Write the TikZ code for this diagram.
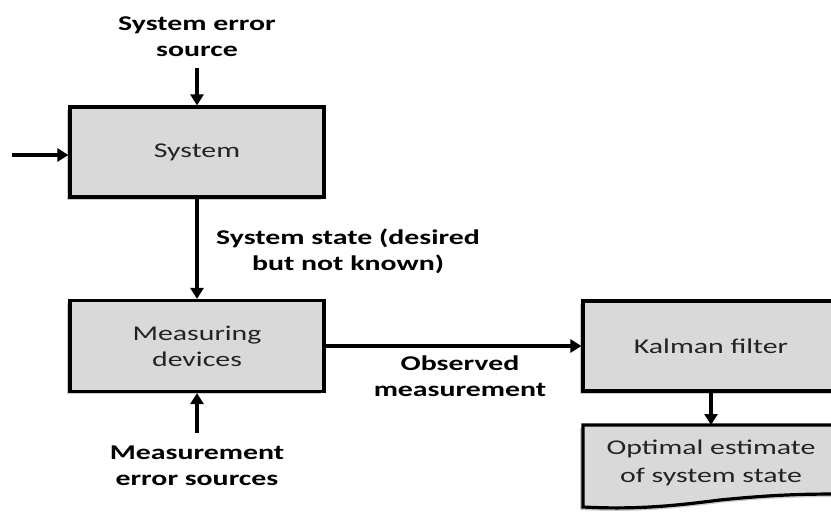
\documentclass[tikz,border=0pt]{standalone}
\usepackage{fontspec}
\setmainfont{Carlito}[FakeStretch=1.42]
\usetikzlibrary{arrows.meta,shadows}
\definecolor{boxfill}{RGB}{217,217,217}
\definecolor{boxtext}{RGB}{35,35,35}
\tikzset{
  blk/.style={draw=black, line width=3.2pt, fill=boxfill, minimum width=254pt, minimum height=90pt,
    align=center, text=boxtext, font=\fontsize{21}{26}\selectfont,
    drop shadow={shadow xshift=-3pt, shadow yshift=-3pt, opacity=0.4, fill=gray}},
  lbl/.style={align=center, font=\fontsize{21}{26}\selectfont\bfseries, text=black},
  arr/.style={line width=3.6pt, -{Triangle[width=13pt,length=11pt]}},
}
\begin{document}
\begin{tikzpicture}[x=1pt,y=-1pt]
\useasboundingbox (0,0) rectangle (831,513);
\clip (0,0) rectangle (831,513);
\fill[white] (0,0) rectangle (831,513);

% boxes
\node[blk] (sys) at (197,152) {System};
\node[blk, minimum height=91pt] (meas) at (197,346) {Measuring\\devices};
\node[blk, minimum width=256pt] (kal) at (711,346) {Kalman filter};

% document shape
\coordinate (doctop) at (711,425);
\fill[gray, opacity=0.4] (580,428) -- (840,428) -- (840,497)
  .. controls (800,497) and (770,498) .. (720,503)
  .. controls (680,508) and (640,513) .. (580,510) -- cycle;
\draw[line width=3.2pt, fill=boxfill] (583,425) -- (840,425) -- (840,494)
  .. controls (800,494) and (770,495) .. (720,500)
  .. controls (680,505) and (640,510) .. (583,507) -- cycle;
\node[align=center, text=boxtext, font=\fontsize{21}{28}\selectfont] (doc) at (711,463) {Optimal estimate\\of system state};

% labels
\node[lbl] (sesl) at (197,37) {System error\\source};
\coordinate (sesa) at (197,68);
\coordinate (inp) at (12,155);
\node[lbl] (ssl) at (348,251) {System state (desired\\but not known)};
\node[lbl] (oml) at (460,376) {Observed\\measurement};
\node[lbl] (mesl) at (197,466) {Measurement\\error sources};
\coordinate (mesa) at (197,433);

% connectors
\draw[arr] (sesa) -- (sys.north);
\draw[arr] (inp) -- (inp -| sys.west);
\draw[arr] (sys.south) -- (meas.north);
\draw[arr] (mesa) -- (meas.south);
\draw[arr] (meas.east) -- (kal.west);
\draw[arr] (kal.south -| doctop) -- (doctop);
\end{tikzpicture}
\end{document}
